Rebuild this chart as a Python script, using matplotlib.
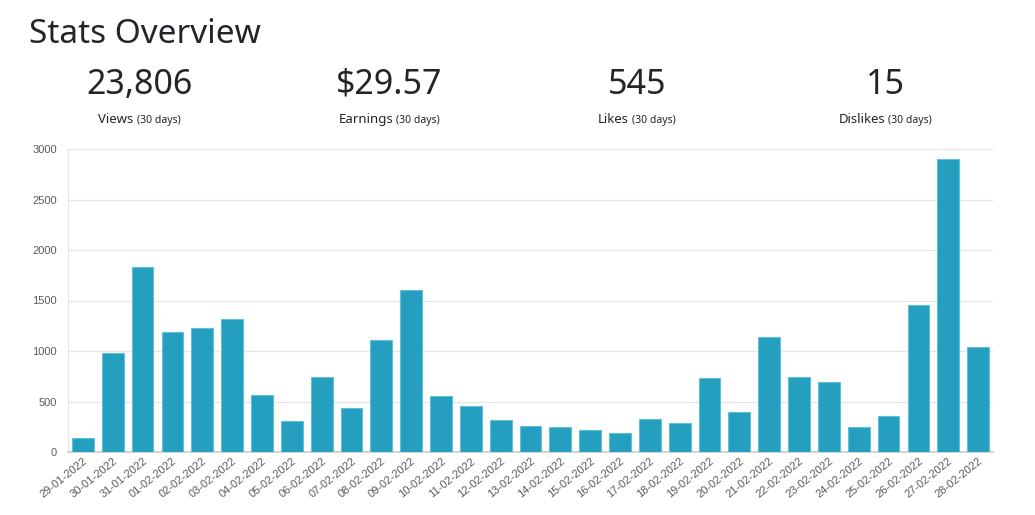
import numpy as np
import matplotlib
matplotlib.use("Agg")
from matplotlib import pyplot as plt

# Daten
dates = ['29-01-2022', '30-01-2022', '31-01-2022', '01-02-2022', '02-02-2022',
         '03-02-2022', '04-02-2022', '05-02-2022', '06-02-2022', '07-02-2022',
         '08-02-2022', '09-02-2022', '10-02-2022', '11-02-2022', '12-02-2022',
         '13-02-2022', '14-02-2022', '15-02-2022', '16-02-2022', '17-02-2022',
         '18-02-2022', '19-02-2022', '20-02-2022', '21-02-2022', '22-02-2022',
         '23-02-2022', '24-02-2022', '25-02-2022', '26-02-2022', '27-02-2022',
         '28-02-2022']
views = [140, 985, 1830, 1190, 1228, 1317, 563, 310, 745, 435,
         1105, 1604, 558, 458, 320, 260, 250, 217, 185, 330,
         290, 736, 392, 1138, 745, 693, 250, 355, 1458, 2897, 1040]

stat_values = ['23,806', '$29.57', '545', '15']
stat_names = ['Views', 'Earnings', 'Likes', 'Dislikes']
stat_note = '(30 days)'

text_font = ['Noto Sans', 'DejaVu Sans']
chart_font = ['Liberation Sans', 'DejaVu Sans']

fig = plt.figure(figsize=(10.35, 5.15), dpi=100)

# Kopfzeile
fig.text(29 / 1035, 1 - 43 / 515, 'Stats Overview', fontsize=24, color='#212529',
         family=text_font, ha='left', va='baseline')

centers = [139.5, 389, 637, 885.5]
for cx, val in zip(centers, stat_values):
    fig.text(cx / 1035, 1 - 94 / 515, val, fontsize=24.5, color='#212529',
             family=text_font, ha='center', va='baseline')

# Beschriftungen unter den Zahlen (zwei Schriftgroessen)
pairs = []
for cx, name in zip(centers, stat_names):
    t1 = fig.text(0, 1 - 123 / 515, name, fontsize=9.5, color='#212529',
                  family=text_font, ha='left', va='baseline')
    t2 = fig.text(0, 1 - 123 / 515, stat_note, fontsize=7.5, color='#212529',
                  family=text_font, ha='left', va='baseline')
    pairs.append((cx, t1, t2))

fig.canvas.draw()
r = fig.canvas.get_renderer()
gap = 3
for cx, t1, t2 in pairs:
    w1 = t1.get_window_extent(r).width
    w2 = t2.get_window_extent(r).width
    x0 = cx - (w1 + gap + w2) / 2
    t1.set_x(x0 / 1035)
    t2.set_x((x0 + w1 + gap) / 1035)

# Balkendiagramm
ax = fig.add_axes([68 / 1035, 1 - 452 / 515, (993 - 68) / 1035, (452 - 149) / 515])
x = np.arange(len(dates))
ax.bar(x, views, width=0.73, color='#249fbf', edgecolor='#62c0da', linewidth=0.8, zorder=3)

ax.set_xlim(-0.5, len(dates) - 0.5)
ax.set_ylim(0, 3000)
ax.set_yticks(np.arange(0, 3001, 500))
ax.grid(axis='y', color='#e6e6e6', linewidth=1, zorder=0)
ax.set_axisbelow(True)

for s in ['top', 'right']:
    ax.spines[s].set_visible(False)
ax.spines['left'].set_color('#e6e6e6')
ax.spines['bottom'].set_color('#cccccc')
ax.spines['bottom'].set_linewidth(1.2)

ax.tick_params(axis='y', length=0, pad=8, labelsize=8, labelcolor='#5a5a5a')
ax.tick_params(axis='x', length=0, pad=3, labelsize=8, labelcolor='#5a5a5a')
for lab in ax.get_yticklabels():
    lab.set_family(chart_font)

ax.set_xticks(x)
ax.set_xticklabels(dates, rotation=39, ha='right', va='top', rotation_mode='anchor',
                   family=chart_font)

plt.savefig('out.png', dpi=100)
